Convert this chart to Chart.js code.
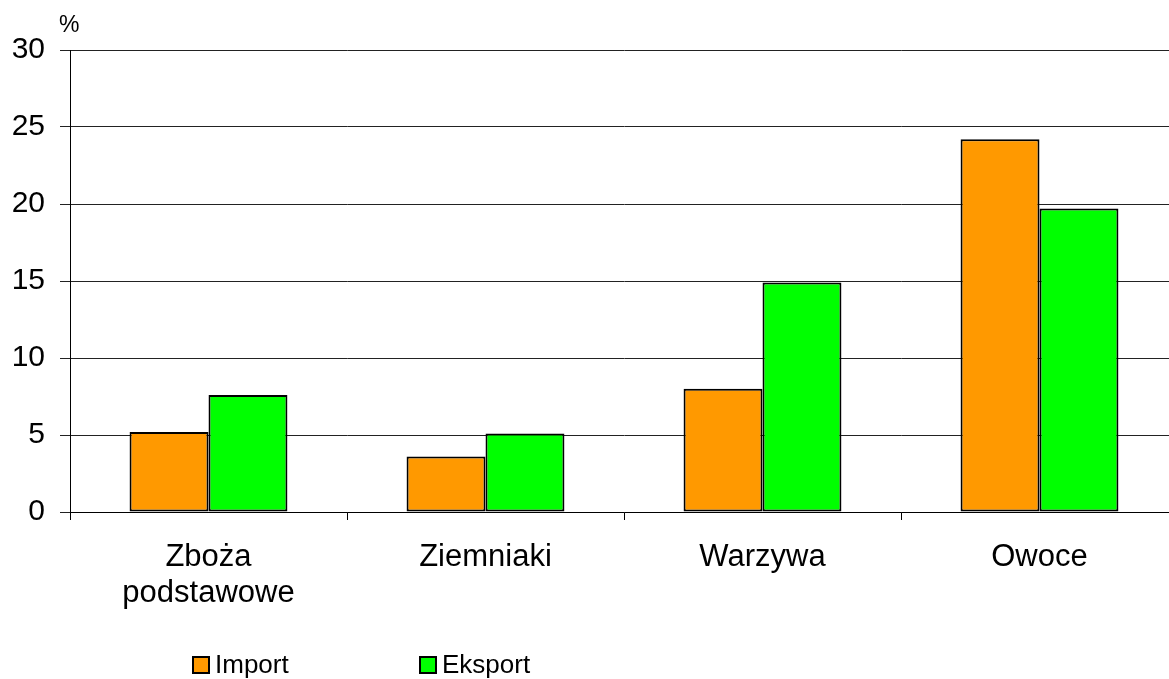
<!DOCTYPE html>
<html>
<head>
<meta charset="utf-8">
<script src="https://cdn.jsdelivr.net/npm/chart.js@4/dist/chart.umd.min.js"></script>
<style>
  body { margin: 0; background: #fff; font-family: "Liberation Sans", Arial, sans-serif; }
  #wrap { position: relative; width: 1169px; height: 679px; overflow: hidden; }
  #pct { position: absolute; left: 59px; top: 11px; font-size: 23px; color: #000; }
  .leg { position: absolute; top: 649px; font-size: 26px; color: #000; display: flex; align-items: center; }
  .leg i { display: inline-block; width: 14px; height: 14px; border: 2px solid #000; margin-right: 5px; }
</style>
</head>
<body>
<div id="wrap">
  <canvas id="myChart" width="1178" height="679"></canvas>
  <div id="pct">%</div>
  <div class="leg" style="left:192px"><i style="background:#ff9900"></i>Import</div>
  <div class="leg" style="left:419px"><i style="background:#00ff00"></i>Eksport</div>
</div>
<script>
// setup
const categories = [['Zboża', 'podstawowe'], 'Ziemniaki', 'Warzywa', 'Owoce'];
const importValues = [5.2, 3.6, 8.0, 24.2];
const eksportValues = [7.6, 5.1, 14.9, 19.7];
const yTicks = [0, 5, 10, 15, 20, 25, 30];

const data = {
  labels: categories,
  datasets: [
    {
      label: 'Import',
      data: importValues,
      backgroundColor: '#ff9900',
      borderColor: '#000',
      borderWidth: 2,
      borderSkipped: false
    },
    {
      label: 'Eksport',
      data: eksportValues,
      backgroundColor: '#00ff00',
      borderColor: '#000',
      borderWidth: 2,
      borderSkipped: false
    }
  ]
};

const fontFamily = '"Liberation Sans", Arial, sans-serif';

// config
const config = {
  type: 'bar',
  data,
  options: {
    responsive: false,
    animation: false,
    layout: { padding: { top: 50, right: 0, bottom: 67, left: 0 } },
    categoryPercentage: 0.57,
    barPercentage: 1.0,
    plugins: { legend: { display: false }, tooltip: { enabled: false } },
    scales: {
      x: {
        afterFit(scale) { scale.height = 100; },
        grid: { offset: true, drawOnChartArea: false, color: '#000', tickLength: 8 },
        border: { color: '#000', width: 1 },
        ticks: { font: { family: fontFamily, size: 31, lineHeight: 1.15 }, color: '#000', padding: 20 }
      },
      y: {
        min: 0,
        max: 30,
        afterFit(scale) { scale.width = 70; },
        afterBuildTicks(scale) { scale.ticks = yTicks.map(v => ({ value: v })); },
        grid: { color: '#222', tickLength: 10 },
        border: { color: '#000', width: 1 },
        ticks: { font: { family: fontFamily, size: 30 }, color: '#000', padding: 15 }
      }
    }
  }
};

// render init block
const myChart = new Chart(document.getElementById('myChart'), config);
</script>
</body>
</html>
